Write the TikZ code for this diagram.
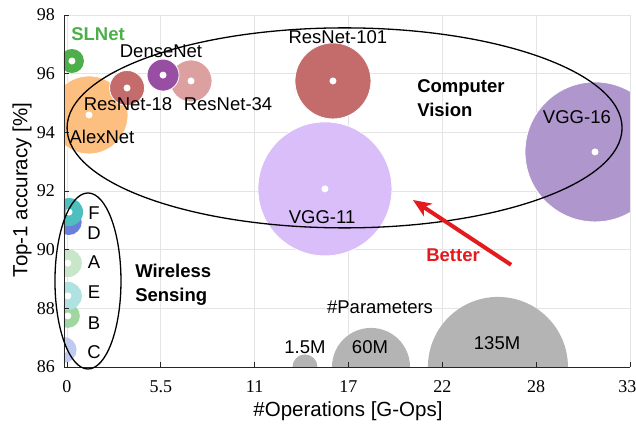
\documentclass[tikz,border=0pt]{standalone}
\usepackage{fontspec}
\setmainfont{Liberation Sans}
\newfontfamily\numfont{Liberation Serif}
\usetikzlibrary{shapes.geometric,arrows.meta}

\definecolor{slgreen}{RGB}{77,175,74}
\definecolor{alexorange}{RGB}{253,191,128}
\definecolor{resred}{RGB}{196,108,108}
\definecolor{resrose}{RGB}{220,160,160}
\definecolor{densepurple}{RGB}{152,78,163}
\definecolor{vgglilac}{RGB}{217,190,250}
\definecolor{vggpurple}{RGB}{175,150,205}
\definecolor{wsteal}{RGB}{78,190,190}
\definecolor{wsblue}{RGB}{106,127,219}
\definecolor{wsmint}{RGB}{200,230,200}
\definecolor{wscyan}{RGB}{176,226,226}
\definecolor{wsgreen}{RGB}{160,215,160}
\definecolor{wsperi}{RGB}{190,202,240}
\definecolor{paramgray}{RGB}{180,180,180}
\definecolor{gridgray}{RGB}{228,228,228}
\definecolor{axisgray}{RGB}{38,38,38}
\definecolor{betterred}{RGB}{228,26,28}

\tikzset{
  bubble/.style={circle,draw=white,line width=0.8pt,inner sep=0pt,minimum size=#1},
  lbl/.style={inner sep=0pt,font=\fontsize{18.5}{22}\selectfont},
  boldlbl/.style={inner sep=0pt,align=left,font=\fontsize{18.5}{24}\selectfont\bfseries},
  ticklbl/.style={inner sep=0pt,font=\fontsize{18}{22}\selectfont\numfont},
  group/.style={ellipse,draw=black,line width=1.3pt,inner sep=0pt}
}
\newcommand{\centerdot}[1]{\fill[white] (#1.center) circle (3.5pt);}

\begin{document}
\begin{tikzpicture}[x=17.06pt,y=29.33pt]
  \useasboundingbox (-3.927,83.886) rectangle (33.353,98.511);

  % grid
  \foreach \gx in {0,5.5,11,16.5,22,27.5,33}
    \draw[gridgray,line width=0.7pt] (\gx,86) -- (\gx,98);
  \foreach \gy in {88,90,...,98}
    \draw[gridgray,line width=0.7pt] (-0.176,\gy) -- (33,\gy);

  \begin{scope}
    \clip (-0.176,86) rectangle (33,98);
    % computer vision models
    \node[bubble=140pt,fill=vggpurple] (vgg16) at (30.95,93.33) {}; \centerdot{vgg16}
    \node[bubble=134pt,fill=vgglilac] (vgg11) at (15.12,92.07) {}; \centerdot{vgg11}
    \node[bubble=76pt,fill=resred] (res101) at (15.59,95.75) {}; \centerdot{res101}
    \node[bubble=78pt,fill=alexorange] (alexnet) at (1.29,94.59) {}; \centerdot{alexnet}
    \node[bubble=42pt,fill=resrose] (res34) at (7.27,95.75) {}; \centerdot{res34}
    \node[bubble=32pt,fill=densepurple] (densenet) at (5.63,95.95) {}; \centerdot{densenet}
    \node[bubble=35pt,fill=resred] (res18) at (3.52,95.51) {}; \centerdot{res18}
    \node[bubble=24pt,fill=slgreen,draw=none] (slnet) at (0.29,96.43) {}; \centerdot{slnet}
    % wireless sensing models
    \node[bubble=26pt,fill=wsperi,draw=none] (wsC) at (-0.2,86.58) {}; \centerdot{wsC}
    \node[bubble=24pt,fill=wsgreen,draw=none] (wsB) at (0.05,87.74) {}; \centerdot{wsB}
    \node[bubble=28pt,fill=wscyan,draw=none] (wsE) at (0.05,88.42) {}; \centerdot{wsE}
    \node[bubble=28pt,fill=wsmint,draw=none] (wsA) at (0.05,89.54) {}; \centerdot{wsA}
    \node[bubble=26pt,fill=wsblue,draw=none] (wsD) at (0.1,90.94) {}; \centerdot{wsD}
    \node[bubble=28pt,fill=wsteal,draw=none] (wsF) at (0.12,91.28) {}; \centerdot{wsF}
    % size legend
    \node[bubble=25pt,fill=paramgray,draw=none] (p1) at (13.95,86) {};
    \node[bubble=78pt,fill=paramgray,draw=none] (p2) at (17.82,86) {};
    \node[bubble=140pt,fill=paramgray,draw=none] (p3) at (25.26,86) {};
  \end{scope}

  % axes
  \draw[axisgray,line width=0.8pt] (-0.176,98) -- (-0.176,86) -- (33,86);
  \foreach \gx/\t/\dx in {0/0/0,5.5/5.5/0,11/11/0,16.5/17/0,22/22/0,27.5/28/0,33/33/-2.5} {
    \draw[axisgray,line width=0.8pt] (\gx,86) -- ++(0,5pt);
    \node[ticklbl] (xt-\t) at ([xshift=\dx pt]\gx,85.32) {\t};
  }
  \foreach \gy in {86,88,...,98} {
    \draw[axisgray,line width=0.8pt] (-0.176,\gy) -- ++(5pt,0);
    \node[ticklbl,anchor=east] (yt-\gy) at (-0.70,\gy) {\gy};
  }
  \node[lbl,font=\fontsize{20.5}{24}\selectfont] (xlabel) at (16.47,84.5) {\#Operations [G-Ops]};
  \node[lbl,font=\fontsize{20.5}{24}\selectfont,rotate=90] (ylabel) at (-2.64,92.03) {Top-1 accuracy [\%]};

  % groups
  \node[group,minimum width=555pt,minimum height=200pt] (cv) at (16.27,94.15) {};
  \node[group,minimum width=66pt,minimum height=176pt] (ws) at (1.23,88.93) {};

  % labels
  \node[lbl,font=\fontsize{18.5}{22}\selectfont\bfseries,text=slgreen] (slnet-lbl) at (1.82,97.35) {SLNet};
  \node[lbl] (densenet-lbl) at (5.51,96.77) {DenseNet};
  \node[lbl] (res18-lbl) at (3.58,94.97) {ResNet-18};
  \node[lbl] (res34-lbl) at (9.44,94.97) {ResNet-34};
  \node[lbl] (alexnet-lbl) at (2.05,93.84) {AlexNet};
  \node[lbl] (res101-lbl) at (15.88,97.25) {ResNet-101};
  \node[lbl] (vgg16-lbl) at (29.89,94.52) {VGG-16};
  \node[lbl] (vgg11-lbl) at (14.95,91.11) {VGG-11};
  \foreach \n/\yy in {F/91.25,D/90.57,A/89.58,E/88.56,B/87.50,C/86.51}
    \node[lbl] (ws\n-lbl) at (1.58,\yy) {\n};
  \node[boldlbl,anchor=west] (cv-lbl) at (20.52,95.15) {Computer\\Vision};
  \node[boldlbl,anchor=west] (ws-lbl) at (3.99,88.79) {Wireless\\Sensing};
  \node[lbl] (param-lbl) at (18.35,88.04) {\#Parameters};
  \node[lbl] (p1-lbl) at (13.95,86.68) {1.5M};
  \node[lbl] (p2-lbl) at (17.76,86.68) {60M};
  \node[lbl] (p3-lbl) at (25.21,86.82) {135M};

  % better arrow
  \coordinate (better-tail) at (26.03,89.48);
  \coordinate (better-tip) at (20.28,91.69);
  \draw[betterred,line width=4pt,-{Stealth[length=18pt,width=15pt,inset=5pt]}] (better-tail) -- (better-tip);
  \node[lbl,font=\fontsize{18.5}{22}\selectfont\bfseries,text=betterred] (better-lbl) at (22.63,89.82) {Better};
\end{tikzpicture}
\end{document}
